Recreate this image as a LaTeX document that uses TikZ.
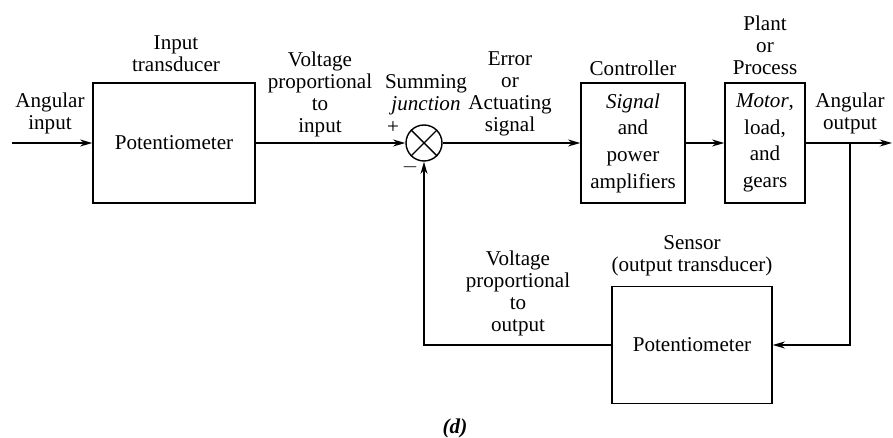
\documentclass[tikz,border=0pt]{standalone}
\usepackage{fontspec}
\setmainfont{Liberation Serif}
\usetikzlibrary{arrows.meta, positioning}

\begin{document}
\begin{tikzpicture}[x=0.02cm, y=-0.02cm, >={Stealth[length=7pt,width=4pt]},
  line width=0.8pt,
  font=\fontsize{12}{12.5}\selectfont,
  block/.style={draw, rectangle, align=center, font=\fontsize{12}{15.2}\selectfont},
  lbl/.style={align=center},
  sumj/.style={draw, circle, minimum size=0.72cm, inner sep=0pt}]

\useasboundingbox (0,0) rectangle (893,438);

% --- forward path ---
\coordinate (in) at (12,143);
\node[block, minimum width=3.24cm, minimum height=2.4cm] (pin) at (174,143) {Potentiometer};
\node[sumj] (sum) at (424,143) {};
\draw (sum.north west) -- (sum.south east);
\draw (sum.north east) -- (sum.south west);
\node[block, minimum width=2.08cm, minimum height=2.4cm] (ctl) at (633,143)
  {\textit{Signal}\\and\\power\\amplifiers};
\node[block, minimum width=1.6cm, minimum height=2.4cm] (plant) at (765,143)
  {\textit{Motor},\\load,\\and\\gears};
\coordinate (tap) at (850,143);
\coordinate (out) at (892,143);

\draw[->] (in) -- (pin.west);
\draw[->] (pin.east) -- (sum.west);
\draw[->] (sum.east) -- (ctl.west);
\draw[->] (ctl.east) -- (plant.west);
\draw[->] (plant.east) -- (out);

% --- feedback path ---
\node[block, minimum width=3.2cm, minimum height=2.34cm] (sen) at (692,345) {Potentiometer};
\draw[->] (tap) |- (sen.east);
\draw[->] (sen.west) -| (sum.south);

% labels
\node[lbl] (lin) at (50,113) {Angular\\input};
\node[lbl] (lpin) at (176,54) {Input\\transducer};
\node[lbl] (lvin) at (320,94) {Voltage\\proportional\\to\\input};
\node[lbl] (lsum) at (426,95) {Summing\\\textit{junction}};
\node (plus) at (393,128) {+};
\node (minus) at (410,167) {$-$};
\node[lbl] (lerr) at (510,94) {Error\\or\\Actuating\\signal};
\node[lbl] (lctl) at (633,68) {Controller};
\node[lbl] (lplant) at (765,45) {Plant\\or\\Process};
\node[lbl] (lout) at (850,113) {Angular\\output};
\node[lbl] (lsen) at (692,256) {Sensor\\(output transducer)};
\node[lbl] (lvout) at (518,293) {Voltage\\proportional\\to\\output};
\node (cap) at (455,428) {\textbf{\textit{(d)}}};

\end{tikzpicture}
\end{document}
